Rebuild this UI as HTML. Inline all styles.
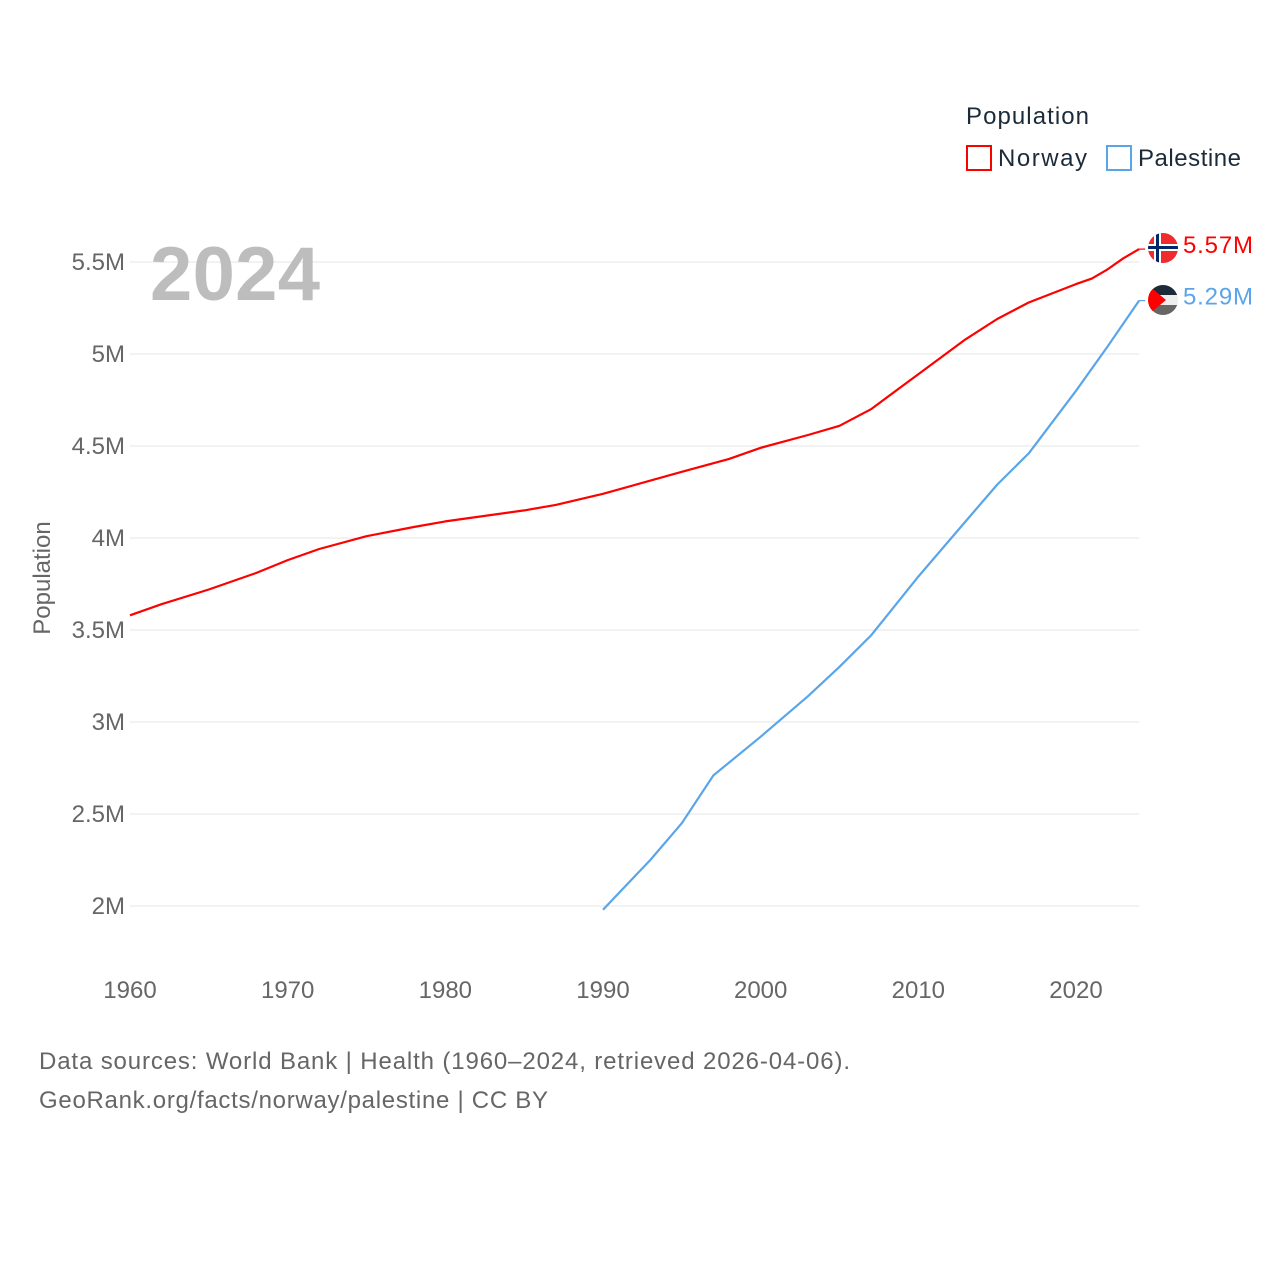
<!DOCTYPE html>
<html><head><meta charset="utf-8"><style>
body{margin:0;background:#fff;}
svg{display:block;font-family:"Liberation Sans",sans-serif;}
</style></head><body>
<svg id="chart" width="1280" height="1280" viewBox="0 0 1280 1280">
<g id="grid"></g>
<g id="yticks"></g>
<g id="xticks"></g>
<text x="150" y="300" font-size="76" font-weight="bold" fill="#bdbdbd" textLength="170">2024</text>
<text transform="translate(50,578) rotate(-90)" text-anchor="middle" font-size="24" fill="#666">Population</text>
<g id="lines"></g>
<g>
<text x="966" y="124" font-size="24" fill="#1c2b3a" textLength="123">Population</text>
<g><rect x="967" y="146" width="24" height="24" fill="none" stroke="#ff0000" stroke-width="2"/><text x="998" y="166" font-size="24" fill="#1c2b3a" textLength="89">Norway</text></g>
<g><rect x="1107" y="146" width="24" height="24" fill="none" stroke="#5aa5ea" stroke-width="2"/><text x="1138" y="166" font-size="24" fill="#1c2b3a" textLength="103">Palestine</text></g>
</g>
<g>
<clipPath id="c1"><circle cx="1163" cy="248" r="15"/></clipPath>
<g clip-path="url(#c1)"><rect x="1148" y="233" width="30" height="30" fill="#ef2b2d"/><rect x="1154" y="233" width="7" height="30" fill="#fff"/><rect x="1148" y="244" width="30" height="7" fill="#fff"/><rect x="1156" y="233" width="3" height="30" fill="#002868"/><rect x="1148" y="246" width="30" height="3" fill="#002868"/></g>
</g>
<g>
<clipPath id="c2"><circle cx="1163" cy="300" r="15"/></clipPath>
<g clip-path="url(#c2)"><rect x="1148" y="285" width="30" height="10" fill="#1c2b3a"/><rect x="1148" y="295" width="30" height="10" fill="#eee"/><rect x="1148" y="305" width="30" height="10" fill="#666"/><polygon points="1148,285 1166,300 1148,315" fill="#ff0000"/></g>
</g>
<text x="39" y="1069" font-size="24" fill="#666" textLength="811">Data sources: World Bank | Health (1960–2024, retrieved 2026-04-06).</text>
<text x="39" y="1108" font-size="24" fill="#666" textLength="509">GeoRank.org/facts/norway/palestine | CC BY</text>
</svg>
<script>
const xTicks = [1960,1970,1980,1990,2000,2010,2020];
const yTicks = [2,2.5,3,3.5,4,4.5,5,5.5];
const yTickLabels = ["2M","2.5M","3M","3.5M","4M","4.5M","5M","5.5M"];
const norwayYears = [1960,1962,1965,1968,1970,1972,1975,1978,1980,1985,1987,1990,1995,1998,2000,2003,2005,2007,2010,2013,2015,2017,2020,2021,2022,2023,2024];
const norwayValues = [3.58,3.64,3.72,3.81,3.88,3.94,4.01,4.06,4.09,4.15,4.18,4.24,4.36,4.43,4.49,4.56,4.61,4.70,4.89,5.08,5.19,5.28,5.38,5.41,5.46,5.52,5.57];
const palestineYears = [1990,1993,1995,1997,2000,2003,2005,2007,2010,2013,2015,2017,2020,2022,2024];
const palestineValues = [1.98,2.25,2.45,2.71,2.92,3.14,3.30,3.47,3.79,4.09,4.29,4.46,4.80,5.04,5.29];
const x = v => 130 + (v-1960)*(1076-130)/60;
const y = v => 906 - (v-2)*184;
const NS="http://www.w3.org/2000/svg";
const mk=(t,a,p)=>{const e=document.createElementNS(NS,t);for(const k in a)e.setAttribute(k,a[k]);p.appendChild(e);return e;};
const grid=document.getElementById('grid'),yt=document.getElementById('yticks'),xt=document.getElementById('xticks'),lines=document.getElementById('lines');
yTicks.forEach((v,i)=>{
  const l=mk('line',{x1:130,x2:1139,y1:y(v),y2:y(v),stroke:'#e6e6e6','stroke-width':1},grid);
  
  
  const t=mk('text',{x:125,y:y(v)+8,'text-anchor':'end','font-size':24,fill:'#666'},yt);
  t.textContent=yTickLabels[i];
  
  
});
xTicks.forEach(v=>{
  const t=mk('text',{x:x(v),y:998,'text-anchor':'middle','font-size':24,fill:'#666'},xt);
  t.textContent=v;
  
  
});
function series(years,vals,color,name,label){
  const d=years.map((yr,i)=>(i?'L':'M')+x(yr).toFixed(1)+','+y(vals[i]).toFixed(1)).join('');
  const p=mk('path',{d:d,fill:'none',stroke:color,'stroke-width':2.2,'stroke-linejoin':'round'},lines);
  
  
  const last=vals[vals.length-1];
  const ly=y(last);
  const c=mk('path',{d:'M'+x(years[years.length-1]).toFixed(1)+','+ly.toFixed(1)+'h6',fill:'none',stroke:color,'stroke-width':1.2},lines);
  
  
  const t=mk('text',{x:1183,y:ly+4,'font-size':24,fill:color,textLength:70},lines);
  t.textContent=label;
  
  
}
series(norwayYears,norwayValues,'#ff0000','norway',(norwayValues[norwayValues.length-1]).toFixed(2)+'M');
series(palestineYears,palestineValues,'#5aa5ea','palestine',(palestineValues[palestineValues.length-1]).toFixed(2)+'M');
</script>
</body></html>
